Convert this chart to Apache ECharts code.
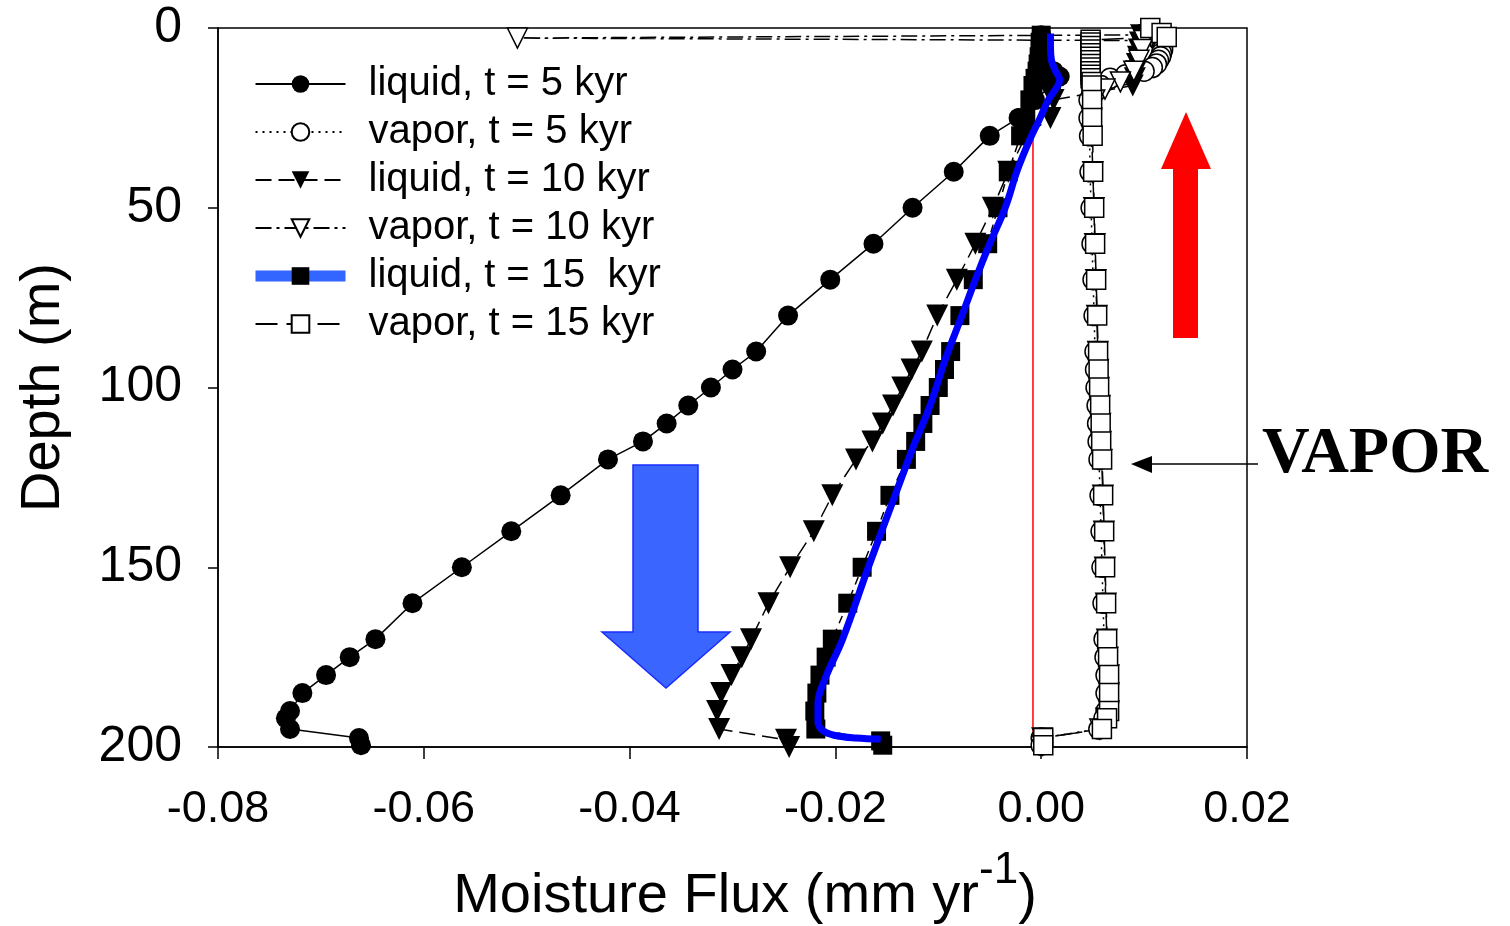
<!DOCTYPE html>
<html>
<head>
<meta charset="utf-8">
<title>Moisture Flux</title>
<script src="https://cdn.jsdelivr.net/npm/echarts@6/dist/echarts.min.js"></script>
<style>
  html, body { margin: 0; padding: 0; background: #fff; }
  #main { width: 1510px; height: 926px; }
</style>
</head>
<body>
<div id="main"></div>
<script>
// depth (m) and flux (mm/yr)
var liquid5Depth = [2, 4, 6, 8, 10, 12, 13.5, 16, 20, 25, 30, 40, 50, 60, 70, 80, 90, 95, 100, 105, 110, 115, 120, 130, 140, 150, 160, 170, 175, 180, 185, 190, 192, 195, 197.5, 199.5]
var liquid5Flux = [0.0000, 0.0000, 0.0001, 0.0002, 0.0004, 0.0012, 0.0018, 0.0010, -0.0006, -0.0022, -0.0050, -0.0085, -0.0125, -0.0163, -0.0205, -0.0246, -0.0277, -0.0300, -0.0321, -0.0343, -0.0364, -0.0387, -0.0421, -0.0467, -0.0515, -0.0563, -0.0611, -0.0647, -0.0672, -0.0695, -0.0718, -0.0730, -0.0734, -0.0730, -0.0663, -0.0661]

var vapor5Depth = [2, 3, 4, 5, 6, 7, 8, 9, 10, 11, 12, 13, 14, 16, 18, 20, 25, 30, 40, 50, 60, 70, 80, 90, 95, 100, 105, 110, 115, 120, 130, 140, 150, 160, 170, 175, 180, 185, 190, 192, 195, 197.5, 199.5]
var vapor5Flux = [0.0110, 0.0113, 0.0116, 0.0118, 0.0118, 0.0117, 0.0116, 0.0114, 0.0112, 0.0108, 0.0100, 0.0082, 0.0067, 0.0058, 0.0052, 0.00465, 0.00465, 0.0047, 0.00475, 0.00485, 0.00494, 0.00504, 0.00514, 0.00523, 0.00528, 0.00533, 0.00543, 0.00548, 0.00553, 0.00562, 0.00572, 0.00582, 0.00591, 0.00601, 0.00611, 0.0062, 0.0063, 0.0063, 0.0063, 0.0061, 0.0056, 0.0000, 0.0000]

var liquid10Depth = [2, 4, 6, 8, 10, 12, 14, 16, 20, 25, 30, 40, 50, 60, 70, 80, 90, 95, 100, 105, 110, 115, 120, 130, 140, 150, 160, 170, 175, 180, 185, 190, 195, 198, 200]
var liquid10Flux = [0.0097, 0.0096, 0.0095, 0.0094, 0.0093, 0.0092, 0.0091, 0.0089, 0.0012, 0.0009, -0.0015, -0.0032, -0.0047, -0.0064, -0.0082, -0.0101, -0.0116, -0.0126, -0.0135, -0.0144, -0.0154, -0.0164, -0.0180, -0.0203, -0.0221, -0.0244, -0.0265, -0.0282, -0.0291, -0.0301, -0.0311, -0.0315, -0.0313, -0.0248, -0.0245]

var vapor10Depth = [1.9, 2.8, 3.5, 6, 9, 12, 15, 17, 20, 25, 30, 40, 50, 60, 70, 80, 90, 95, 100, 105, 110, 115, 120, 130, 140, 150, 160, 170, 175, 180, 185, 190, 192, 195, 197.5, 199.5]
var vapor10Flux = [0.0105, -0.0509, 0.0100, 0.0098, 0.0095, 0.0090, 0.0077, 0.0062, 0.0052, 0.0049, 0.0049, 0.00502, 0.00512, 0.00521, 0.00531, 0.00541, 0.0055, 0.00555, 0.0056, 0.0057, 0.00575, 0.0058, 0.00589, 0.00599, 0.00609, 0.00618, 0.00628, 0.00638, 0.00647, 0.00657, 0.00657, 0.00657, 0.0063, 0.0057, 0.0001, 0.0001]

var liquid15Depth = [2, 4, 6, 8, 10, 12, 14, 16, 20, 25, 30, 40, 50, 60, 70, 80, 90, 95, 100, 105, 110, 115, 120, 130, 140, 150, 160, 170, 175, 180, 185, 190, 195, 198.3, 199.5]
var liquid15Flux = [0.0000, -0.0001, -0.0001, -0.0002, -0.0003, -0.0004, -0.0006, -0.0008, -0.0011, -0.0015, -0.0020, -0.0032, -0.0042, -0.0052, -0.0066, -0.0079, -0.0088, -0.0094, -0.0100, -0.0108, -0.0115, -0.0122, -0.0131, -0.0147, -0.0160, -0.0174, -0.0188, -0.0203, -0.0209, -0.0215, -0.0218, -0.0220, -0.0219, -0.0156, -0.0154]

// blue smooth curve drawn over the t = 15 kyr liquid nodes
var liquid15CurveDepth = [1.5, 5, 9, 12, 14.5, 17, 20, 25, 31, 39.4, 50, 60, 70, 80, 92, 105, 117, 130, 150, 170, 181, 188, 193, 195.5, 196.8, 197.5, 197.8]
var liquid15CurveFlux = [0.0009, 0.0009, 0.0010, 0.0014, 0.0018, 0.0014, 0.0007, -0.0001, -0.0011, -0.0023, -0.0035, -0.0050, -0.0064, -0.0077, -0.0093, -0.0108, -0.0125, -0.0142, -0.0168, -0.0193, -0.0210, -0.0217, -0.0217, -0.0212, -0.0200, -0.0180, -0.0156]

var vapor15Depth = [0, 1.4, 2.5, 3.3, 4, 5, 6, 7, 8, 9, 10, 11, 12, 13, 14, 15, 16, 20, 25, 30, 40, 50, 60, 70, 80, 90, 95, 100, 105, 110, 115, 120, 130, 140, 150, 160, 170, 175, 180, 185, 190, 192, 195, 197.5, 199.5]
var vapor15Flux = [0.0106, 0.0117, 0.0122, 0.0048, 0.0048, 0.0048, 0.0048, 0.0048, 0.0048, 0.0048, 0.0048, 0.0048, 0.0048, 0.0048, 0.0048, 0.0049, 0.0049, 0.00495, 0.00495, 0.0050, 0.00505, 0.00515, 0.00524, 0.00534, 0.00544, 0.00553, 0.00558, 0.00563, 0.00573, 0.00578, 0.00583, 0.00592, 0.00602, 0.00612, 0.00621, 0.00631, 0.00641, 0.0065, 0.0066, 0.0066, 0.0066, 0.0064, 0.0059, 0.0002, 0.0002]

// red zero-flux reference line
var zeroLineDepth = [1.2, 200]
var zeroLineFlux = [-0.0008, -0.0008]

var fluxTicks = { min: -0.08, max: 0.02, interval: 0.02 }
var depthTicks = { min: 0, max: 200, interval: 50 }

var arial = "Arial, 'Liberation Sans', sans-serif"

function pairs (flux, depth) {
  return depth.map(function (d, i) { return [flux[i], d] })
}

var chart = echarts.init(document.getElementById('main'))

var openStyle = { color: '#fff', borderColor: '#000', borderWidth: 1.5 }

chart.setOption({
  animation: false,
  backgroundColor: '#fff',
  grid: {
    left: 218,
    right: 263,
    top: 28,
    bottom: 179,
    outerBoundsMode: 'none',
    show: true,
    borderColor: '#000',
    borderWidth: 1.5
  },
  legend: {
    orient: 'vertical',
    left: 245,
    top: 59,
    itemWidth: 90,
    itemHeight: 22,
    itemGap: 8,
    selectedMode: false,
    textStyle: { fontSize: 40, fontFamily: arial, color: '#000', padding: [0, 0, 0, 18] },
    data: [
      { name: 'liquid, t = 5 kyr' },
      { name: 'vapor, t = 5 kyr' },
      { name: 'liquid, t = 10 kyr' },
      { name: 'vapor, t = 10 kyr' },
      { name: 'liquid, t = 15  kyr', lineStyle: { color: '#3366ff', width: 11 } },
      { name: 'vapor, t = 15 kyr' }
    ]
  },
  xAxis: {
    type: 'value',
    min: fluxTicks.min,
    max: fluxTicks.max,
    interval: fluxTicks.interval,
    name: '{a|Moisture Flux (mm yr}{b|-1}{a|)}',
    nameLocation: 'middle',
    nameGap: 102,
    nameTextStyle: {
      padding: [0, 0, 0, 25],
      rich: {
        a: { fontSize: 56, lineHeight: 76, fontFamily: arial, color: '#000', verticalAlign: 'bottom' },
        b: { fontSize: 44, lineHeight: 44, fontFamily: arial, color: '#000', verticalAlign: 'top' }
      }
    },
    axisLine: { onZero: false, lineStyle: { color: '#000', width: 1.5 } },
    axisTick: { length: 12, lineStyle: { color: '#000', width: 1.5 } },
    axisLabel: {
      margin: 40,
      fontSize: 45,
      fontFamily: arial,
      color: '#000',
      formatter: function (v) { return (Math.abs(v) < 1e-9 ? 0 : v).toFixed(2) }
    },
    splitLine: { show: false }
  },
  yAxis: {
    type: 'value',
    inverse: true,
    min: depthTicks.min,
    max: depthTicks.max,
    interval: depthTicks.interval,
    name: 'Depth (m)',
    nameLocation: 'middle',
    nameGap: 146,
    nameTextStyle: { fontSize: 56, fontFamily: arial, color: '#000' },
    axisLine: { onZero: false, lineStyle: { color: '#000', width: 1.5 } },
    axisTick: { length: 10, lineStyle: { color: '#000', width: 1.5 } },
    axisLabel: { margin: 36, fontSize: 50, fontFamily: arial, color: '#000' },
    splitLine: { show: false }
  },
  series: [
    {
      name: 'liquid, t = 5 kyr',
      type: 'line',
      data: pairs(liquid5Flux, liquid5Depth),
      symbol: 'circle',
      symbolSize: 20,
      itemStyle: { color: '#000' },
      lineStyle: { color: '#000', width: 1.5, type: 'solid' }
    },
    {
      name: 'vapor, t = 5 kyr',
      type: 'line',
      data: pairs(vapor5Flux, vapor5Depth),
      symbol: 'circle',
      symbolSize: 20,
      itemStyle: openStyle,
      lineStyle: { color: '#000', width: 1.5, type: [2, 5] }
    },
    {
      name: 'liquid, t = 10 kyr',
      type: 'line',
      data: pairs(liquid10Flux, liquid10Depth),
      symbol: 'triangle',
      symbolRotate: 180,
      symbolSize: 22,
      itemStyle: { color: '#000' },
      lineStyle: { color: '#000', width: 1.5, type: [16, 7] }
    },
    {
      name: 'vapor, t = 10 kyr',
      type: 'line',
      data: pairs(vapor10Flux, vapor10Depth),
      symbol: 'triangle',
      symbolRotate: 180,
      symbolSize: 20,
      itemStyle: openStyle,
      lineStyle: { color: '#000', width: 1.5, type: [16, 5, 3, 5] }
    },
    {
      name: 'vapor, t = 15 kyr',
      type: 'line',
      data: pairs(vapor15Flux, vapor15Depth),
      symbol: 'rect',
      symbolSize: 19,
      itemStyle: openStyle,
      lineStyle: { color: '#000', width: 1.5, type: [22, 9] }
    },
    {
      name: 'liquid15 nodes',
      type: 'line',
      data: pairs(liquid15Flux, liquid15Depth),
      symbol: 'rect',
      symbolSize: 19,
      itemStyle: { color: '#000' },
      lineStyle: { color: '#000', width: 1.5, type: [8, 6] }
    },
    {
      name: 'zero',
      type: 'line',
      data: pairs(zeroLineFlux, zeroLineDepth),
      symbol: 'none',
      lineStyle: { color: '#ff0000', width: 1.5 },
      z: 3
    },
    {
      name: 'liquid, t = 15  kyr',
      type: 'line',
      data: pairs(liquid15CurveFlux, liquid15CurveDepth),
      smooth: 0.4,
      symbol: 'rect',
      showSymbol: false,
      itemStyle: { color: '#000' },
      lineStyle: { color: '#0000ff', width: 7 },
      z: 4
    }
  ],
  graphic: [
    // red arrow pointing up
    {
      type: 'polygon',
      shape: { points: [[1186, 112], [1211, 169], [1198, 169], [1198, 338], [1173, 338], [1173, 169], [1161, 169]] },
      style: { fill: '#ff0000' },
      z: 10
    },
    // blue arrow pointing down
    {
      type: 'polygon',
      shape: { points: [[633, 465], [698, 465], [698, 632], [730, 632], [666, 688], [602, 632], [633, 632]] },
      style: { fill: '#3a66ff', stroke: '#1a2cff', lineWidth: 1.5 },
      z: 10
    },
    // VAPOR label with pointer
    {
      type: 'line',
      shape: { x1: 1258, y1: 464, x2: 1150, y2: 464 },
      style: { stroke: '#000', lineWidth: 1.5 },
      z: 10
    },
    {
      type: 'polygon',
      shape: { points: [[1131, 464], [1152, 456], [1152, 473]] },
      style: { fill: '#000' },
      z: 10
    },
    {
      type: 'text',
      x: 1262,
      y: 455,
      style: {
        text: 'VAPOR',
        fontSize: 66,
        fontWeight: 'bold',
        fontFamily: "'Times New Roman', 'Liberation Serif', serif",
        fill: '#000',
        verticalAlign: 'middle'
      },
      z: 10
    }
  ]
})
</script>
</body>
</html>
